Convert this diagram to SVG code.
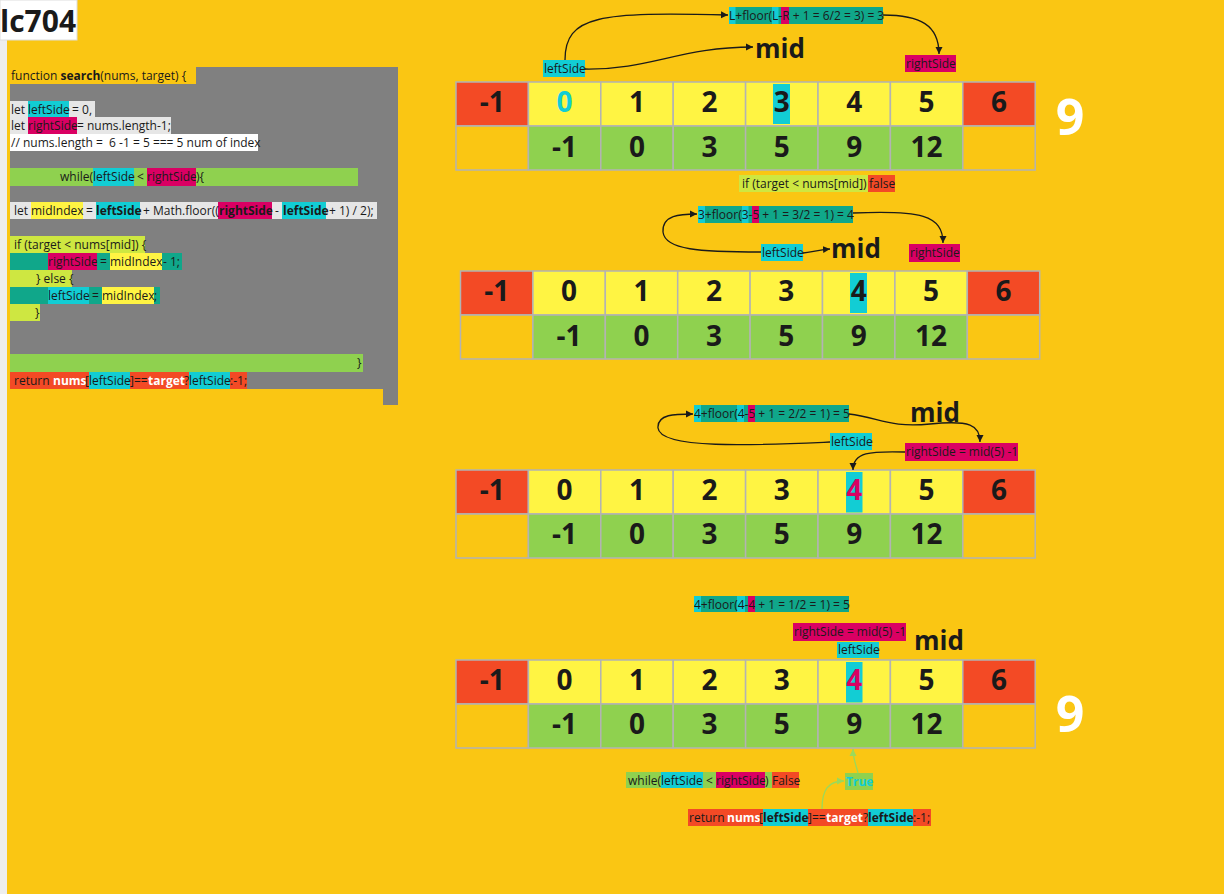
<svg xmlns="http://www.w3.org/2000/svg" width="1224" height="894" viewBox="0 0 1224 894">
<defs>
<style>
.t{font-family:"Open Sans","Noto Sans","Liberation Sans",sans-serif;font-size:12px;fill:#1a1a1a}
.b{font-weight:700}
.w{fill:#ffffff}
.num{font-family:"Open Sans","Noto Sans","Liberation Sans",sans-serif;font-weight:700;font-size:28px;fill:#1a1a1a;text-anchor:middle}
.big{font-family:"Open Sans","Noto Sans","Liberation Sans",sans-serif;font-weight:700;font-size:50px;fill:#ffffff;text-anchor:middle}
.mid{font-family:"Open Sans","Noto Sans","Liberation Sans",sans-serif;font-weight:700;font-size:26px;fill:#1a1a1a}
.tc{fill:#12CDD4}
.cell{stroke:#b3b3b3;stroke-width:1.5}
.ry{fill:#FFF443}.rr{fill:#F34A25}.rg{fill:#8FD14F}.rb{fill:#FAC613}
.cy{fill:#12CDD4}.mg{fill:#DA0063}.te{fill:#10A78A}.li{fill:#CEE741}.lg{fill:#E6E6E6}.yl{fill:#FFF443}.gr{fill:#8FD14F}.rd{fill:#F34A25}
.c{fill:none;stroke:#1a1a1a;stroke-width:1.3}
.cg{fill:none;stroke:#9BD95A;stroke-width:1.3}
</style>
<marker id="ah" markerUnits="userSpaceOnUse" markerWidth="8" markerHeight="8" refX="7" refY="4" orient="auto"><path d="M0,0.5 L7,4 L0,7.5 z" fill="#1a1a1a"/></marker>
<marker id="ahg" markerUnits="userSpaceOnUse" markerWidth="8" markerHeight="8" refX="7" refY="4" orient="auto"><path d="M0,0.5 L7,4 L0,7.5 z" fill="#9BD95A"/></marker>
</defs>
<rect x="0" y="0" width="1224" height="894" fill="#FAC613"/>
<rect x="0" y="0" width="7" height="894" fill="#EEEEEE"/>
<g id="title">
<rect x="0" y="0" width="77" height="40" fill="#ffffff" stroke="#dddddd"/>
<text x="0" y="32" font-family="'Open Sans','Noto Sans',sans-serif" font-weight="700" font-size="30" fill="#1a1a1a">lc704</text>
</g>
<g id="code">
<rect x="10" y="67" width="388" height="338" fill="#808080"/>
<rect x="10" y="67" width="186" height="17" fill="#FAC613"/>
<text class="t" x="11" y="80">function <tspan class="b">search</tspan>(nums, target) {</text>
<rect x="10" y="101" width="85" height="16" class="lg"/><rect x="28" y="101" width="41" height="16" class="cy"/>
<text class="t" y="114"><tspan x="11">let</tspan><tspan x="28">leftSide</tspan><tspan x="69" xml:space="preserve"> = 0,</tspan></text>
<rect x="10" y="117" width="161" height="17" class="lg"/><rect x="28" y="117" width="49" height="17" class="mg"/>
<text class="t" y="130"><tspan x="11">let</tspan><tspan x="28">rightSide</tspan><tspan x="77">= nums.length-1;</tspan></text>
<rect x="10" y="134" width="248" height="17" fill="#ffffff"/>
<text class="t" x="11" y="147" xml:space="preserve">// nums.length =  6 -1 = 5 === 5 num of index</text>
<rect x="10" y="168" width="348" height="18" class="gr"/><rect x="93" y="168" width="41" height="18" class="cy"/><rect x="147" y="168" width="49" height="18" class="mg"/>
<text class="t" y="181"><tspan x="60">while(</tspan><tspan x="93">leftSide</tspan><tspan x="137">&lt;</tspan><tspan x="147">rightSide</tspan><tspan x="196">){</tspan></text>
<rect x="10" y="202" width="367" height="17" class="lg"/><rect x="31" y="202" width="52" height="17" class="yl"/><rect x="96" y="202" width="44" height="17" class="cy"/><rect x="218" y="202" width="54" height="17" class="mg"/><rect x="282" y="202" width="44" height="17" class="cy"/>
<text class="t" y="215"><tspan x="14">let</tspan><tspan x="31">midIndex</tspan><tspan x="86">=</tspan><tspan x="96" class="b">leftSide</tspan><tspan x="143">+ Math.floor((</tspan><tspan x="219" class="b">rightSide</tspan><tspan x="275">-</tspan><tspan x="283" class="b">leftSide</tspan><tspan x="329">+ 1) / 2);</tspan></text>
<rect x="10" y="236" width="135" height="17" class="li"/>
<text class="t" x="14" y="249">if (target &lt; nums[mid]) {</text>
<rect x="10" y="253" width="172" height="17" class="te"/><rect x="48" y="253" width="49" height="17" class="mg"/><rect x="110" y="253" width="52" height="17" class="yl"/>
<text class="t" y="266"><tspan x="48">rightSide</tspan><tspan x="100">=</tspan><tspan x="110">midIndex</tspan><tspan x="163">- 1;</tspan></text>
<rect x="10" y="270" width="62" height="17" class="li"/>
<text class="t" x="36" y="283">} else {</text>
<rect x="10" y="287" width="150" height="17" class="te"/><rect x="48" y="287" width="41" height="17" class="cy"/><rect x="102" y="287" width="52" height="17" class="yl"/>
<text class="t" y="300"><tspan x="48">leftSide</tspan><tspan x="92">=</tspan><tspan x="102">midIndex</tspan><tspan x="154">;</tspan></text>
<rect x="10" y="304" width="30" height="17" class="li"/>
<text class="t" x="35" y="317">}</text>
<rect x="10" y="354" width="353" height="18" class="gr"/>
<text class="t" x="357" y="367">}</text>
<rect x="10" y="372" width="237" height="17" class="rd"/><rect x="89" y="372" width="41" height="17" class="cy"/><rect x="189" y="372" width="41" height="17" class="cy"/>
<text class="t" y="385"><tspan x="14">return</tspan><tspan x="53" class="b w">nums</tspan><tspan x="85">[</tspan><tspan x="89">leftSide</tspan><tspan x="130">]==</tspan><tspan x="148" class="b w">target</tspan><tspan x="184">?</tspan><tspan x="189">leftSide</tspan><tspan x="230">:-1;</tspan></text>
<rect x="10" y="389" width="373" height="16" fill="#FAC613"/>
</g>
<g id="array1">
<rect class="cell rr" x="456" y="82" width="72.4" height="44"/>
<rect class="cell ry" x="528.4" y="82" width="72.4" height="44"/>
<rect class="cell ry" x="600.8" y="82" width="72.4" height="44"/>
<rect class="cell ry" x="673.2" y="82" width="72.4" height="44"/>
<rect class="cell ry" x="745.6" y="82" width="72.4" height="44"/>
<rect class="cell ry" x="818" y="82" width="72.4" height="44"/>
<rect class="cell ry" x="890.4" y="82" width="72.4" height="44"/>
<rect class="cell rr" x="962.8" y="82" width="72.4" height="44"/>
<rect class="cell rb" x="456" y="126" width="72.4" height="44"/>
<rect class="cell rg" x="528.4" y="126" width="72.4" height="44"/>
<rect class="cell rg" x="600.8" y="126" width="72.4" height="44"/>
<rect class="cell rg" x="673.2" y="126" width="72.4" height="44"/>
<rect class="cell rg" x="745.6" y="126" width="72.4" height="44"/>
<rect class="cell rg" x="818" y="126" width="72.4" height="44"/>
<rect class="cell rg" x="890.4" y="126" width="72.4" height="44"/>
<rect class="cell rb" x="962.8" y="126" width="72.4" height="44"/>
<rect x="773" y="84" width="17" height="40" class="cy"/>
<text class="num" x="492.2" y="112">-1</text><text class="num tc" x="564.6" y="112">0</text><text class="num" x="637" y="112">1</text><text class="num" x="709.4" y="112">2</text><text class="num" x="781.8" y="112">3</text><text class="num" x="854.2" y="112">4</text><text class="num" x="926.6" y="112">5</text><text class="num" x="999" y="112">6</text>
<text class="num" x="564.6" y="157">-1</text><text class="num" x="637" y="157">0</text><text class="num" x="709.4" y="157">3</text><text class="num" x="781.8" y="157">5</text><text class="num" x="854.2" y="157">9</text><text class="num" x="926.6" y="157">12</text>
</g>
<g id="target1"><text class="big" x="1070" y="135">9</text></g>
<g id="array2">
<rect class="cell rr" x="460.5" y="271" width="72.4" height="44"/>
<rect class="cell ry" x="532.9" y="271" width="72.4" height="44"/>
<rect class="cell ry" x="605.3" y="271" width="72.4" height="44"/>
<rect class="cell ry" x="677.7" y="271" width="72.4" height="44"/>
<rect class="cell ry" x="750.1" y="271" width="72.4" height="44"/>
<rect class="cell ry" x="822.5" y="271" width="72.4" height="44"/>
<rect class="cell ry" x="894.9" y="271" width="72.4" height="44"/>
<rect class="cell rr" x="967.3" y="271" width="72.4" height="44"/>
<rect class="cell rb" x="460.5" y="315" width="72.4" height="44"/>
<rect class="cell rg" x="532.9" y="315" width="72.4" height="44"/>
<rect class="cell rg" x="605.3" y="315" width="72.4" height="44"/>
<rect class="cell rg" x="677.7" y="315" width="72.4" height="44"/>
<rect class="cell rg" x="750.1" y="315" width="72.4" height="44"/>
<rect class="cell rg" x="822.5" y="315" width="72.4" height="44"/>
<rect class="cell rg" x="894.9" y="315" width="72.4" height="44"/>
<rect class="cell rb" x="967.3" y="315" width="72.4" height="44"/>
<rect x="850" y="273" width="17" height="40" class="cy"/>
<text class="num" x="496.7" y="301">-1</text><text class="num" x="569.1" y="301">0</text><text class="num" x="641.5" y="301">1</text><text class="num" x="713.9" y="301">2</text><text class="num" x="786.3" y="301">3</text><text class="num" x="858.7" y="301">4</text><text class="num" x="931.1" y="301">5</text><text class="num" x="1003.5" y="301">6</text>
<text class="num" x="569.1" y="346">-1</text><text class="num" x="641.5" y="346">0</text><text class="num" x="713.9" y="346">3</text><text class="num" x="786.3" y="346">5</text><text class="num" x="858.7" y="346">9</text><text class="num" x="931.1" y="346">12</text>
</g>
<g id="array3">
<rect class="cell rr" x="456" y="470" width="72.4" height="44"/>
<rect class="cell ry" x="528.4" y="470" width="72.4" height="44"/>
<rect class="cell ry" x="600.8" y="470" width="72.4" height="44"/>
<rect class="cell ry" x="673.2" y="470" width="72.4" height="44"/>
<rect class="cell ry" x="745.6" y="470" width="72.4" height="44"/>
<rect class="cell ry" x="818" y="470" width="72.4" height="44"/>
<rect class="cell ry" x="890.4" y="470" width="72.4" height="44"/>
<rect class="cell rr" x="962.8" y="470" width="72.4" height="44"/>
<rect class="cell rb" x="456" y="514" width="72.4" height="44"/>
<rect class="cell rg" x="528.4" y="514" width="72.4" height="44"/>
<rect class="cell rg" x="600.8" y="514" width="72.4" height="44"/>
<rect class="cell rg" x="673.2" y="514" width="72.4" height="44"/>
<rect class="cell rg" x="745.6" y="514" width="72.4" height="44"/>
<rect class="cell rg" x="818" y="514" width="72.4" height="44"/>
<rect class="cell rg" x="890.4" y="514" width="72.4" height="44"/>
<rect class="cell rb" x="962.8" y="514" width="72.4" height="44"/>
<rect x="846" y="472" width="16.5" height="40.5" class="cy"/>
<text class="num" x="492.2" y="500">-1</text><text class="num" x="564.6" y="500">0</text><text class="num" x="637" y="500">1</text><text class="num" x="709.4" y="500">2</text><text class="num" x="781.8" y="500">3</text><text class="num mg" x="854.2" y="500">4</text><text class="num" x="926.6" y="500">5</text><text class="num" x="999" y="500">6</text>
<text class="num" x="564.6" y="544">-1</text><text class="num" x="637" y="544">0</text><text class="num" x="709.4" y="544">3</text><text class="num" x="781.8" y="544">5</text><text class="num" x="854.2" y="544">9</text><text class="num" x="926.6" y="544">12</text>
</g>
<g id="array4">
<rect class="cell rr" x="456" y="660" width="72.4" height="44"/>
<rect class="cell ry" x="528.4" y="660" width="72.4" height="44"/>
<rect class="cell ry" x="600.8" y="660" width="72.4" height="44"/>
<rect class="cell ry" x="673.2" y="660" width="72.4" height="44"/>
<rect class="cell ry" x="745.6" y="660" width="72.4" height="44"/>
<rect class="cell ry" x="818" y="660" width="72.4" height="44"/>
<rect class="cell ry" x="890.4" y="660" width="72.4" height="44"/>
<rect class="cell rr" x="962.8" y="660" width="72.4" height="44"/>
<rect class="cell rb" x="456" y="704" width="72.4" height="44"/>
<rect class="cell rg" x="528.4" y="704" width="72.4" height="44"/>
<rect class="cell rg" x="600.8" y="704" width="72.4" height="44"/>
<rect class="cell rg" x="673.2" y="704" width="72.4" height="44"/>
<rect class="cell rg" x="745.6" y="704" width="72.4" height="44"/>
<rect class="cell rg" x="818" y="704" width="72.4" height="44"/>
<rect class="cell rg" x="890.4" y="704" width="72.4" height="44"/>
<rect class="cell rb" x="962.8" y="704" width="72.4" height="44"/>
<rect x="846" y="662" width="16.5" height="40.5" class="cy"/>
<text class="num" x="492.2" y="690">-1</text><text class="num" x="564.6" y="690">0</text><text class="num" x="637" y="690">1</text><text class="num" x="709.4" y="690">2</text><text class="num" x="781.8" y="690">3</text><text class="num mg" x="854.2" y="690">4</text><text class="num" x="926.6" y="690">5</text><text class="num" x="999" y="690">6</text>
<text class="num" x="564.6" y="734">-1</text><text class="num" x="637" y="734">0</text><text class="num" x="709.4" y="734">3</text><text class="num" x="781.8" y="734">5</text><text class="num" x="854.2" y="734">9</text><text class="num" x="926.6" y="734">12</text>
</g>
<g id="target2"><text class="big" x="1070" y="732">9</text></g>
<g id="formula1">
<rect x="729" y="7" width="154" height="17" class="te"/><rect x="729" y="7" width="6.5" height="17" class="cy"/><rect x="772" y="7" width="6.5" height="17" class="cy"/><rect x="781" y="7" width="8" height="17" class="mg"/>
<text class="t" x="729" y="20">L+floor(L-R + 1 = 6/2 = 3) = 3</text>
</g>
<g id="mid1"><text class="mid" x="755" y="58">mid</text></g>
<g id="left1"><rect x="543" y="60" width="42" height="17" class="cy"/><text class="t" x="544" y="73">leftSide</text></g>
<g id="right1"><rect x="905" y="55" width="51" height="17" class="mg"/><text class="t" x="906" y="68">rightSide</text></g>
<g id="cond1">
<rect x="739" y="175" width="129" height="17" class="li"/><rect x="868" y="175" width="27" height="17" class="rd"/>
<text class="t" y="188"><tspan x="742">if (target &lt; nums[mid])</tspan><tspan x="869">false</tspan></text>
</g>
<g id="formula2">
<rect x="698" y="206" width="155" height="17" class="te"/><rect x="698" y="206" width="7" height="17" class="cy"/><rect x="742" y="206" width="6.5" height="17" class="cy"/><rect x="752" y="206" width="7" height="17" class="mg"/>
<text class="t" x="698" y="219">3+floor(3-5 + 1 = 3/2 = 1) = 4</text>
</g>
<g id="left2"><rect x="761" y="244" width="42" height="17" class="cy"/><text class="t" x="762" y="257">leftSide</text></g>
<g id="mid2"><text class="mid" x="831" y="258">mid</text></g>
<g id="right2"><rect x="909" y="244" width="51" height="18" class="mg"/><text class="t" x="910" y="257">rightSide</text></g>
<g id="formula3">
<rect x="694" y="405" width="155" height="17" class="te"/><rect x="694" y="405" width="7" height="17" class="cy"/><rect x="737" y="405" width="7" height="17" class="cy"/><rect x="748" y="405" width="7" height="17" class="mg"/>
<text class="t" x="694" y="418">4+floor(4-5 + 1 = 2/2 = 1) = 5</text>
</g>
<g id="mid3"><text class="mid" x="910" y="422">mid</text></g>
<g id="left3"><rect x="830" y="433" width="42" height="17" class="cy"/><text class="t" x="831" y="446">leftSide</text></g>
<g id="right3"><rect x="905" y="443" width="113" height="18" class="mg"/><text class="t" x="906" y="456">rightSide = mid(5) -1</text></g>
<g id="formula4">
<rect x="694" y="596" width="155" height="16" class="te"/><rect x="694" y="596" width="7" height="16" class="cy"/><rect x="737" y="596" width="8" height="16" class="cy"/><rect x="748" y="596" width="7" height="16" class="mg"/>
<text class="t" x="694" y="609">4+floor(4-4 + 1 = 1/2 = 1) = 5</text>
</g>
<g id="right4"><rect x="793" y="623" width="113" height="18" class="mg"/><text class="t" x="794" y="636">rightSide = mid(5) -1</text></g>
<g id="left4"><rect x="837" y="642" width="42" height="16" class="cy"/><text class="t" x="838" y="654">leftSide</text></g>
<g id="mid4"><text class="mid" x="914" y="650">mid</text></g>
<g id="while5">
<rect x="626" y="772" width="146" height="16" class="gr"/><rect x="661" y="772" width="42" height="16" class="cy"/><rect x="716" y="772" width="49" height="16" class="mg"/><rect x="772" y="772" width="27" height="16" class="rd"/>
<text class="t" y="785"><tspan x="628">while(</tspan><tspan x="661">leftSide</tspan><tspan x="706">&lt;</tspan><tspan x="716">rightSide</tspan><tspan x="765">)</tspan><tspan x="772">False</tspan></text>
</g>
<g id="true5"><rect x="845" y="773" width="28" height="17" class="gr"/><text class="t b tc" x="846" y="786">True</text></g>
<g id="return5">
<rect x="688" y="809" width="243" height="17" class="rd"/><rect x="763" y="809" width="45" height="17" class="cy"/><rect x="868" y="809" width="45" height="17" class="cy"/>
<text class="t" y="822"><tspan x="689">return</tspan><tspan x="727" class="b w">nums</tspan><tspan x="759">[</tspan><tspan x="763" class="b">leftSide</tspan><tspan x="808">]==</tspan><tspan x="826" class="b w">target</tspan><tspan x="863">?</tspan><tspan x="868" class="b">leftSide</tspan><tspan x="913">:-1;</tspan></text>
</g>
<g id="connectors">
<path class="c" d="M565,60 C565,15 600,12 728,15" marker-end="url(#ah)"/>
<path class="c" d="M585,69 C650,70 680,47 753,47" marker-end="url(#ah)"/>
<path class="c" d="M883,15 C920,15 939,25 939,54" marker-end="url(#ah)"/>
<path class="c" d="M761,252 C700,252 665,250 663,232 C662,215 680,214 697,214" marker-end="url(#ah)"/>
<path class="c" d="M803,253 C812,252 818,250 830,249" marker-end="url(#ah)"/>
<path class="c" d="M853,213 C920,210 943,215 943,243" marker-end="url(#ah)"/>
<path class="c" d="M830,442 C760,445 660,450 658,428 C657,414 675,414 693,414" marker-end="url(#ah)"/>
<path class="c" d="M849,414 C880,418 890,428 930,424 C970,420 980,425 980,442" marker-end="url(#ah)"/>
<path class="c" d="M905,452 C870,451 853,452 853,470" marker-end="url(#ah)"/>
<path class="cg" d="M822,809 C822,790 828,781 844,781" marker-end="url(#ahg)"/>
<path class="cg" d="M858,773 C856,765 853,758 853,749" marker-end="url(#ahg)"/>
</g>
</svg>
